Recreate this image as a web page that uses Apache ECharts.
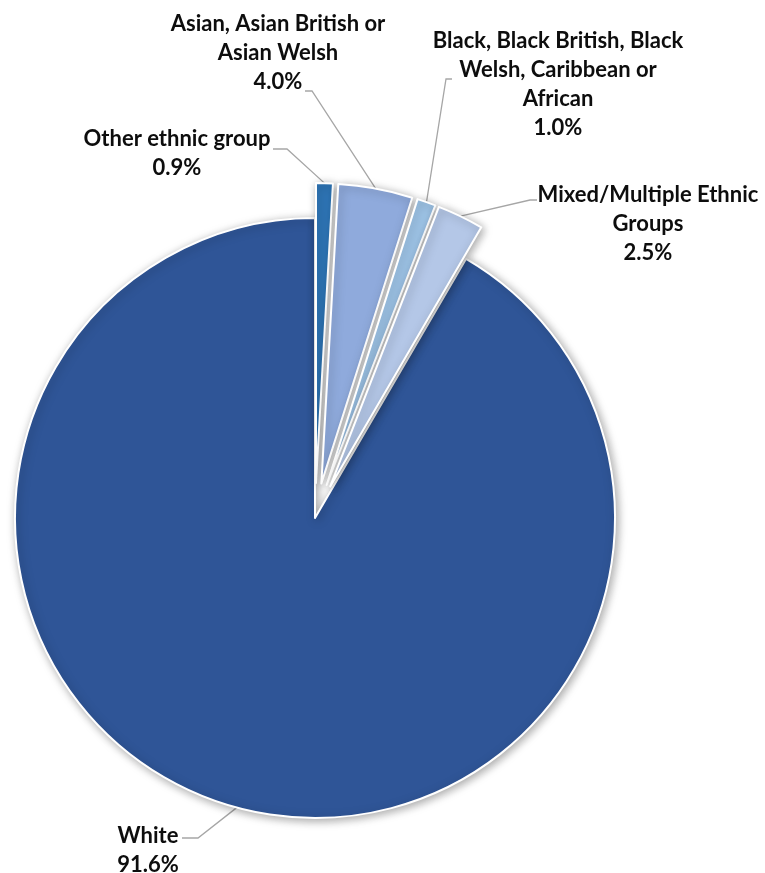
<!DOCTYPE html>
<html>
<head>
<meta charset="utf-8">
<script src="https://cdn.jsdelivr.net/npm/echarts@6/dist/echarts.min.js"></script>
<style>
  html, body { margin: 0; padding: 0; background: #fff; }
  #chart { width: 765px; height: 873px; }
</style>
</head>
<body>
<div id="chart"></div>
<script>
  // categories, clockwise from 12 o'clock
  var categories = [
    'Other ethnic group',
    'Asian, Asian British or\nAsian Welsh',
    'Black, Black British, Black\nWelsh, Caribbean or\nAfrican',
    'Mixed/Multiple Ethnic\nGroups',
    'White'
  ];
  var shares = [0.9, 4.0, 1.0, 2.5, 91.6];
  var exploded = [true, true, true, true, false];
  var colors = ['#2E75B6', '#8FAADC', '#9DC3E6', '#B4C7E7', '#2F5597'];

  // label placement: centre of text block, elbow and end of leader line
  var labelPos = [
    { x: 177, y: 153, elbow: [287, 149], end: [273, 149] },
    { x: 278, y: 53,  elbow: [312, 91],  end: [305, 91] },
    { x: 558, y: 84,  elbow: [446, 79],  end: [452, 79] },
    { x: 648, y: 224, elbow: [530, 200], end: [537, 200] },
    { x: 148, y: 850, elbow: [198, 838], end: [182, 838] }
  ];

  var CX = 315, CY = 518, R = 300, EXPLODE = 35;

  var chart = echarts.init(document.getElementById('chart'));

  var total = shares.reduce(function (a, b) { return a + b; }, 0);

  // one pie per slice so each exploded slice moves out along its own bisector
  var series = [];
  var acc = 0;
  categories.forEach(function (c, i) {
    var mid = (acc + shares[i] / 2) / total * Math.PI * 2;
    acc += shares[i];
    var off = exploded[i] ? EXPLODE : 0;
    var center = [CX + off * Math.sin(mid), CY - off * Math.cos(mid)];

    var data = categories.map(function (cc, j) {
      if (j === i) {
        return { name: cc, value: shares[j], itemStyle: { color: colors[j] } };
      }
      return {
        name: cc,
        value: shares[j],
        itemStyle: { color: 'transparent', borderWidth: 0, shadowBlur: 0, shadowColor: 'transparent' },
        label: { show: false },
        labelLine: { show: false }
      };
    });

    series.push({
      type: 'pie',
      center: center,
      radius: R,
      startAngle: 90,
      clockwise: true,
      avoidLabelOverlap: false,
      silent: true,
      z: i === 4 ? 1 : 2,
      itemStyle: {
        borderColor: '#fff',
        borderWidth: 2,
        shadowBlur: 10,
        shadowColor: 'rgba(0,0,0,0.35)',
        shadowOffsetX: 2,
        shadowOffsetY: 2
      },
      label: {
        show: true,
        fontFamily: 'Lato',
        fontWeight: 'bold',
        fontSize: 22,
        lineHeight: 29,
        color: '#0d0d0d',
        align: 'center',
        formatter: function (p) {
          return p.name + '\n' + p.value.toFixed(1) + '%';
        }
      },
      labelLine: {
        show: true,
        length: 20,
        length2: 10,
        lineStyle: { color: '#a6a6a6', width: 1.3 }
      },
      labelLayout: function (params) {
        var p = labelPos[params.dataIndex];
        var start = params.labelLinePoints ? params.labelLinePoints[0] : p.elbow;
        return {
          x: p.x,
          y: p.y,
          align: 'center',
          verticalAlign: 'middle',
          labelLinePoints: [start, p.elbow, p.end]
        };
      },
      data: data
    });
  });

  chart.setOption({ animation: false, series: series });
</script>
</body>
</html>
